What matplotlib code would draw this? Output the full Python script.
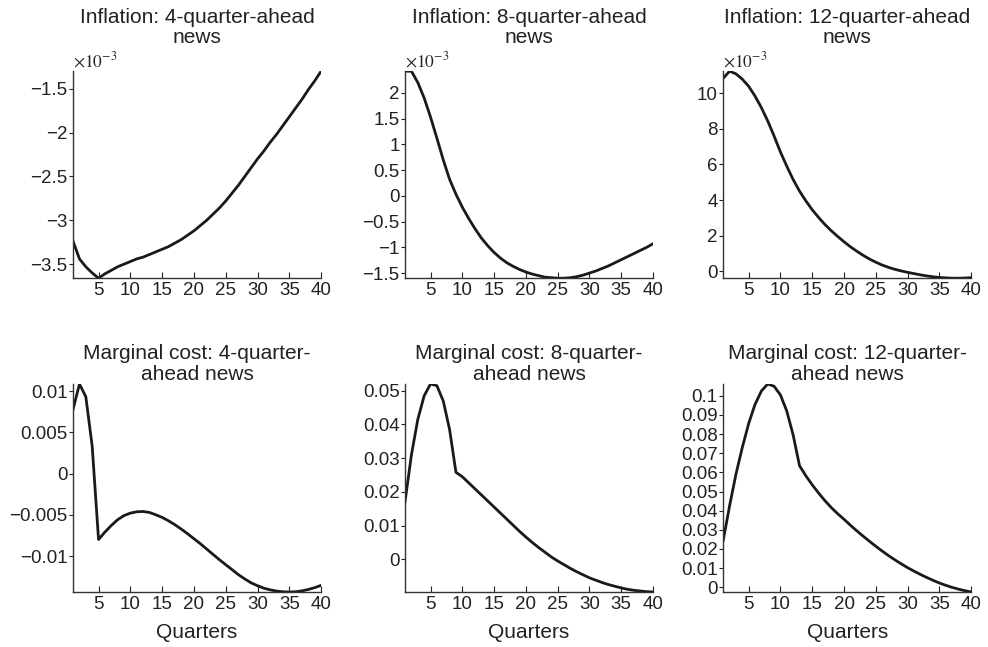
import numpy as np
import matplotlib
matplotlib.use("Agg")
import matplotlib.pyplot as plt
from matplotlib.ticker import FuncFormatter

plt.rcParams['font.family'] = ['Liberation Sans', 'DejaVu Sans']
plt.rcParams['mathtext.fontset'] = 'stix'

quarters = np.arange(1, 41)

# inflation responses, in units of 1e-3
infl_4q = [-3.24, -3.44, -3.53, -3.60, -3.66, -3.61, -3.57, -3.53, -3.50, -3.47,
           -3.44, -3.42, -3.39, -3.36, -3.33, -3.30, -3.26, -3.22, -3.17, -3.12,
           -3.06, -3.00, -2.93, -2.86, -2.78, -2.69, -2.60, -2.50, -2.40, -2.30,
           -2.21, -2.11, -2.02, -1.92, -1.82, -1.72, -1.62, -1.51, -1.41, -1.30]
infl_8q = [2.42, 2.42, 2.20, 1.90, 1.53, 1.12, 0.70, 0.32, 0.03, -0.22,
           -0.44, -0.64, -0.82, -0.97, -1.10, -1.21, -1.30, -1.37, -1.43, -1.48,
           -1.52, -1.55, -1.58, -1.59, -1.60, -1.60, -1.59, -1.57, -1.54, -1.50,
           -1.46, -1.41, -1.36, -1.30, -1.24, -1.18, -1.12, -1.06, -1.00, -0.93]
infl_12q = [10.85, 11.25, 11.10, 10.80, 10.40, 9.85, 9.20, 8.45, 7.60, 6.70,
            5.90, 5.15, 4.50, 3.95, 3.45, 3.02, 2.62, 2.27, 1.95, 1.65,
            1.37, 1.12, 0.89, 0.68, 0.50, 0.34, 0.21, 0.10, 0.01, -0.07,
            -0.14, -0.21, -0.27, -0.32, -0.36, -0.38, -0.40, -0.40, -0.39, -0.37]

# marginal cost responses
mc_4q = [7.8, 10.85, 9.3, 3.3, -8.0, -7.1, -6.3, -5.6, -5.1, -4.8,
         -4.64, -4.60, -4.72, -5.0, -5.32, -5.73, -6.2, -6.73, -7.3, -7.9,
         -8.5, -9.15, -9.8, -10.44, -11.05, -11.65, -12.26, -12.78, -13.25, -13.6,
         -13.9, -14.1, -14.25, -14.33, -14.36, -14.33, -14.22, -14.05, -13.83, -13.55]
mc_8q = [1.72, 3.10, 4.15, 4.85, 5.20, 5.15, 4.70, 3.85, 2.58, 2.45,
         2.27, 2.09, 1.91, 1.73, 1.55, 1.37, 1.19, 1.01, 0.83, 0.66,
         0.50, 0.35, 0.21, 0.07, -0.05, -0.16, -0.27, -0.37, -0.46, -0.55,
         -0.62, -0.69, -0.75, -0.80, -0.85, -0.89, -0.92, -0.94, -0.96, -0.97]
mc_12q = [2.45, 4.25, 5.90, 7.30, 8.55, 9.55, 10.25, 10.62, 10.50, 10.05,
          9.20, 7.95, 6.35, 5.82, 5.35, 4.92, 4.52, 4.16, 3.84, 3.55,
          3.24, 2.95, 2.67, 2.40, 2.14, 1.89, 1.65, 1.43, 1.22, 1.02,
          0.84, 0.67, 0.51, 0.36, 0.22, 0.10, -0.01, -0.10, -0.18, -0.25]

series = [infl_4q, infl_8q, infl_12q,
          np.array(mc_4q) * 1e-3, np.array(mc_8q) * 1e-2, np.array(mc_12q) * 1e-2]

titles = ["Inflation: 4-quarter-ahead\nnews",
          "Inflation: 8-quarter-ahead\nnews",
          "Inflation: 12-quarter-ahead\nnews",
          "Marginal cost: 4-quarter-\nahead news",
          "Marginal cost: 8-quarter-\nahead news",
          "Marginal cost: 12-quarter-\nahead news"]

yticks = [[-3.5, -3, -2.5, -2, -1.5],
          [-1.5, -1, -0.5, 0, 0.5, 1, 1.5, 2],
          [0, 2, 4, 6, 8, 10],
          [-0.01, -0.005, 0, 0.005, 0.01],
          [0, 0.01, 0.02, 0.03, 0.04, 0.05],
          [0, 0.01, 0.02, 0.03, 0.04, 0.05, 0.06, 0.07, 0.08, 0.09, 0.1]]

fig = plt.figure(figsize=(9.88, 6.47), dpi=100)

lefts = [0.074, 0.410, 0.732]
width = 0.251
txt = '#222222'

def fmt(v, pos):
    s = '%g' % round(v, 6)
    return s.replace('-', '\u2212')

for i in range(6):
    row, col = divmod(i, 3)
    if row == 0:
        ax = fig.add_axes([lefts[col], 0.570, width, 0.320])
    else:
        ax = fig.add_axes([lefts[col], 0.085, width, 0.3215])
    y = np.asarray(series[i])
    ax.plot(quarters, y, color='#1a1a1a', lw=2.0)
    ax.set_xlim(1, 40)
    ax.set_ylim(y.min(), y.max())
    ax.set_xticks([5, 10, 15, 20, 25, 30, 35, 40])
    ax.set_yticks(yticks[i])
    ax.yaxis.set_major_formatter(FuncFormatter(fmt))
    for s in ['top', 'right']:
        ax.spines[s].set_visible(False)
    for s in ['left', 'bottom']:
        ax.spines[s].set_color('#333333')
        ax.spines[s].set_linewidth(1.0)
    ax.tick_params(axis='x', direction='in', length=4, labelsize=13.5, colors=txt, pad=3)
    ax.tick_params(axis='y', direction='out', length=3, labelsize=13.5, colors=txt, pad=1)
    if row == 0:
        ax.set_title(titles[i], fontsize=15, color=txt, pad=20, linespacing=1.1)
        ax.text(0.0, 1.005, r'$\times10^{-3}$', transform=ax.transAxes,
                ha='left', va='bottom', fontsize=12.5, color=txt)
    else:
        ax.set_title(titles[i], fontsize=15, color=txt, pad=2, linespacing=1.1)
        ax.set_xlabel('Quarters', fontsize=15, color=txt, labelpad=7)

plt.savefig('out.png', dpi=100)
